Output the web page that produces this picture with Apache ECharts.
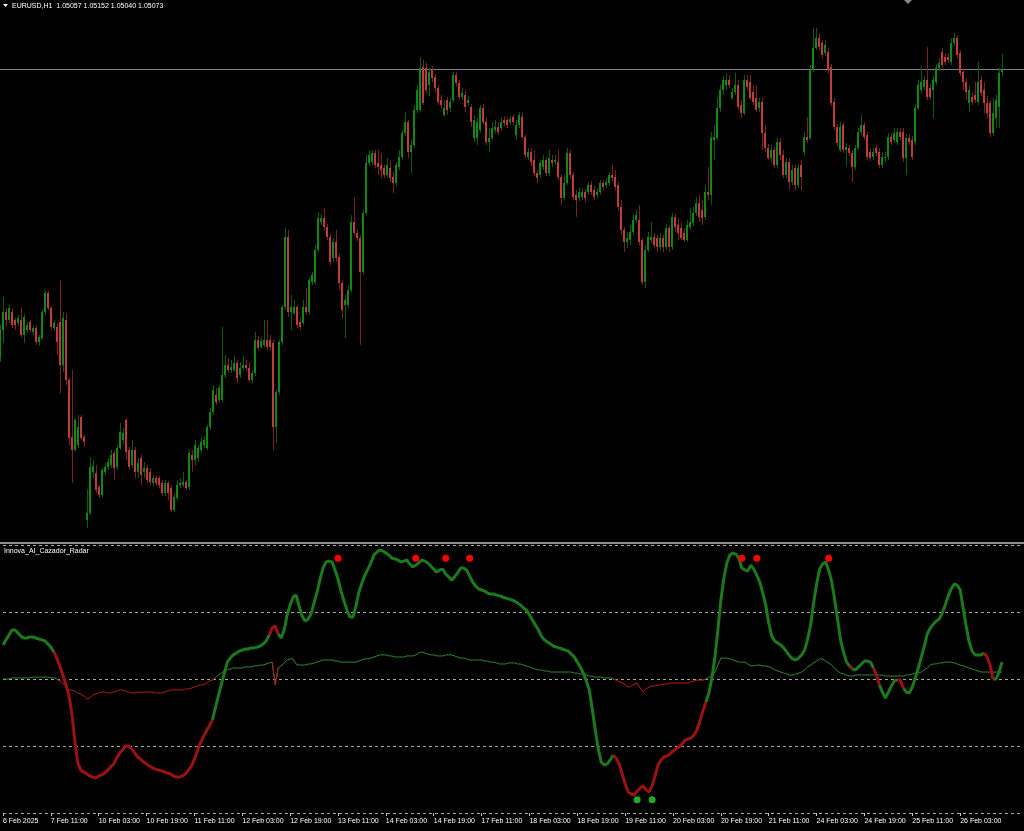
<!DOCTYPE html>
<html><head><meta charset="utf-8">
<script src="https://cdn.jsdelivr.net/npm/echarts/dist/echarts.min.js"></script>
<style>html,body{margin:0;padding:0;background:#000;overflow:hidden}#c{width:1024px;height:831px}</style>
</head><body><div id="c"></div>
<script>
// EURUSD H1 candles (bar 0 = 6 Feb 2025 19:00)
const openP = [
1.0363,1.0377,1.0386,1.0382,1.0386,1.0382,1.03805,1.0382,1.03745,1.0377,
1.0381,1.0376,1.0378,1.0371,1.0373,1.0386,1.03955,1.0388,1.0378,1.03785,
1.0381,1.03595,1.0382,1.0352,1.03235,1.0317,1.03195,1.03335,1.03235,1.0282,
1.02855,1.0306,1.03055,1.02985,1.02945,1.0306,1.03085,1.03095,1.03155,1.03085,
1.0318,1.0322,1.0332,1.0317,1.03095,1.0317,1.0306,1.0313,1.0306,1.0308,
1.0306,1.03005,1.0303,1.0303,1.03005,1.02955,1.03005,1.0298,1.0287,1.0293,
1.02995,1.02995,1.0301,1.02985,1.03145,1.0312,1.0313,1.0317,1.03195,1.0318,
1.03285,1.0336,1.03445,1.0342,1.0342,1.03545,1.03595,1.0357,1.0357,1.03605,
1.03545,1.0358,1.03595,1.0358,1.0352,1.03555,1.0372,1.03685,1.03695,1.0372,
1.0372,1.03705,1.03285,1.0346,1.0371,1.03885,1.04235,1.0386,1.03855,1.03885,
1.0381,1.03805,1.03885,1.0386,1.0401,1.0401,1.0417,1.0431,1.0433,1.04285,
1.04235,1.0413,1.0421,1.04135,1.04005,1.03895,1.03895,1.0397,1.0431,1.04255,
1.0423,1.0406,1.04355,1.04605,1.0461,1.04655,1.04605,1.04595,1.0458,1.04545,
1.0458,1.04535,1.04505,1.04585,1.04635,1.04755,1.0481,1.0466,1.04695,1.0487,
1.0487,1.05085,1.0508,1.04995,1.0507,1.05035,1.0498,1.0492,1.04845,1.0492,
1.0488,1.0492,1.05045,1.05005,1.04935,1.04945,1.04905,1.04885,1.0473,1.0473,
1.0477,1.0488,1.0481,1.0471,1.0473,1.0477,1.04785,1.0478,1.0482,1.0482,
1.0481,1.04835,1.04745,1.04795,1.04835,1.04735,1.04635,1.0466,1.0462,1.04555,
1.04545,1.04585,1.0462,1.04555,1.0462,1.0461,1.0461,1.04535,1.0443,1.04505,
1.04655,1.04545,1.04445,1.0443,1.04435,1.0446,1.0446,1.04495,1.0447,1.04445,
1.0446,1.04505,1.04495,1.04505,1.04545,1.04535,1.04495,1.04385,1.0427,1.0421,
1.0422,1.0426,1.0432,1.0432,1.0422,1.0401,1.0417,1.0422,1.04235,1.0423,
1.04185,1.0423,1.04185,1.0428,1.04185,1.04335,1.04295,1.0428,1.04255,1.0422,
1.04285,1.04305,1.04355,1.04405,1.0437,1.04335,1.0446,1.04445,1.0472,1.0473,
1.0488,1.0497,1.04995,1.0502,1.0493,1.0496,1.04995,1.04895,1.04855,1.0502,
1.0501,1.0496,1.0493,1.0488,1.0491,1.04755,1.0468,1.0463,1.0467,1.04595,
1.0471,1.04645,1.04545,1.0461,1.0451,1.0458,1.04495,1.04595,1.0466,1.04735,
1.0473,1.0507,1.0518,1.0523,1.05205,1.05155,1.0516,1.05085,1.0491,1.04785,
1.0467,1.04795,1.0467,1.0468,1.04655,1.04585,1.0468,1.0476,1.04795,1.04745,
1.0466,1.04635,1.0468,1.0466,1.04595,1.0463,1.04635,1.04735,1.0472,1.0471,
1.0476,1.0476,1.0463,1.0473,1.0472,1.0471,1.0488,1.0497,1.04985,1.0502,
1.0498,1.0497,1.0501,1.0508,1.0516,1.05135,1.05135,1.0511,1.05205,1.0523,
1.05155,1.0506,1.0501,1.04905,1.04935,1.04945,1.0491,1.0502,1.0497,1.04905,
1.04905,1.04755,1.0483,1.04885,1.05057];
const closeP = [
1.0377,1.0386,1.0382,1.0388,1.03795,1.03795,1.0383,1.03745,1.03835,1.03795,
1.0377,1.0378,1.0371,1.03735,1.0386,1.03955,1.0388,1.03785,1.03805,1.0371,
1.03595,1.0383,1.0352,1.0323,1.0317,1.0332,1.03285,1.0323,1.0321,1.02855,
1.03085,1.0309,1.0297,1.02945,1.0307,1.03085,1.0311,1.03145,1.0308,1.0318,
1.0326,1.03255,1.0316,1.03085,1.0317,1.0306,1.03105,1.03045,1.0308,1.0302,
1.0301,1.0303,1.03005,1.02995,1.02955,1.03005,1.02955,1.0287,1.02935,1.02995,
1.03005,1.0301,1.0298,1.03155,1.0312,1.03195,1.0318,1.0321,1.0322,1.03285,
1.0336,1.0347,1.0341,1.0348,1.03545,1.03595,1.0357,1.03585,1.03605,1.0353,
1.0358,1.03595,1.0358,1.0352,1.03555,1.0372,1.0368,1.03715,1.0372,1.03685,
1.03685,1.03285,1.0346,1.0371,1.03885,1.04235,1.0386,1.03885,1.03885,1.03795,
1.03785,1.03885,1.0386,1.0402,1.04045,1.0417,1.0433,1.0433,1.04285,1.04235,
1.0411,1.0421,1.0413,1.04005,1.0387,1.0392,1.0397,1.0431,1.04255,1.0423,
1.0406,1.04355,1.04605,1.04645,1.04655,1.04595,1.04585,1.0457,1.04545,1.04595,
1.0453,1.04505,1.04595,1.04635,1.04755,1.0481,1.0466,1.04695,1.0487,1.0497,
1.0508,1.04905,1.0497,1.0506,1.0503,1.0498,1.0491,1.04895,1.0488,1.0487,
1.0491,1.05045,1.05005,1.04935,1.04955,1.04885,1.0492,1.0481,1.0482,1.0481,
1.0488,1.0481,1.0471,1.0473,1.0478,1.04785,1.0476,1.0481,1.04805,1.04795,
1.04825,1.0481,1.04795,1.04845,1.04735,1.04645,1.0466,1.0461,1.04555,1.0453,
1.04605,1.0462,1.04555,1.0463,1.04605,1.0462,1.04535,1.0443,1.04505,1.04655,
1.04545,1.04435,1.0442,1.0446,1.0446,1.0443,1.04495,1.0446,1.04435,1.0446,
1.04505,1.04485,1.0451,1.04545,1.0453,1.04485,1.04385,1.0427,1.0421,1.0423,
1.0426,1.0432,1.04345,1.0421,1.0401,1.0417,1.04235,1.04235,1.04195,1.04185,
1.0423,1.04185,1.0428,1.04185,1.04335,1.04285,1.04255,1.0423,1.0422,1.04295,
1.0431,1.04355,1.04405,1.04335,1.0433,1.0446,1.04445,1.0473,1.04735,1.0488,
1.0497,1.0502,1.0502,1.04995,1.0496,1.04995,1.04885,1.04855,1.0502,1.04985,
1.0493,1.0491,1.0487,1.0491,1.04755,1.0468,1.0463,1.0467,1.04595,1.0471,
1.04645,1.04545,1.0461,1.0451,1.0457,1.04495,1.0458,1.04535,1.04735,1.0472,
1.0507,1.0518,1.0523,1.05185,1.05145,1.05195,1.0507,1.04905,1.04785,1.04705,
1.04785,1.0467,1.04685,1.04655,1.04585,1.0468,1.0476,1.04795,1.04735,1.04635,
1.0463,1.0466,1.04655,1.04595,1.04635,1.04635,1.04735,1.0471,1.04755,1.0476,
1.04735,1.0463,1.0473,1.0471,1.04635,1.0488,1.04995,1.0501,1.0502,1.04935,
1.04935,1.0502,1.0508,1.05105,1.05095,1.0511,1.0512,1.05205,1.0523,1.05145,
1.05055,1.0501,1.0496,1.0497,1.0491,1.0492,1.0501,1.04955,1.04905,1.04855,
1.04755,1.04855,1.0492,1.05055,1.05073];
const highP = [
1.03795,1.03935,1.0388,1.03895,1.03875,1.0383,1.03845,1.0388,1.0385,1.0381,
1.0382,1.0379,1.03795,1.03745,1.0387,1.0397,1.03965,1.0389,1.0382,1.03805,
1.0402,1.0386,1.03855,1.0353,1.0357,1.0333,1.03345,1.03345,1.03245,1.02975,
1.03135,1.0312,1.03095,1.02995,1.0308,1.03105,1.0313,1.0317,1.0317,1.03195,
1.03305,1.0328,1.0333,1.03185,1.0322,1.03185,1.0313,1.03145,1.0311,1.03095,
1.0308,1.03045,1.0304,1.0304,1.0302,1.0302,1.03015,1.02995,1.0295,1.0302,
1.0303,1.0306,1.0302,1.0317,1.0317,1.0322,1.03195,1.0323,1.0324,1.03295,
1.0338,1.03495,1.0348,1.03495,1.03785,1.03645,1.0363,1.0362,1.0364,1.0362,
1.0361,1.0364,1.0362,1.0361,1.0357,1.0376,1.0374,1.03735,1.0382,1.0382,
1.03745,1.0372,1.0347,1.0372,1.03895,1.0428,1.0427,1.03945,1.0392,1.03895,
1.0383,1.0392,1.0398,1.0403,1.0406,1.04195,1.0436,1.0435,1.0438,1.043,
1.0425,1.0423,1.0427,1.0415,1.0402,1.03945,1.03995,1.04345,1.04435,1.0427,
1.04245,1.0437,1.04645,1.0467,1.0467,1.0467,1.0467,1.04655,1.04595,1.0463,
1.0462,1.0456,1.0461,1.0467,1.0477,1.0486,1.0482,1.0472,1.04895,1.04995,
1.05135,1.0512,1.05105,1.0508,1.0509,1.0505,1.04995,1.04945,1.0492,1.04935,
1.0493,1.0506,1.0506,1.0502,1.0498,1.0497,1.0494,1.049,1.04845,1.0483,
1.04895,1.049,1.0483,1.0478,1.0481,1.0482,1.0481,1.04835,1.0484,1.04835,
1.0484,1.0485,1.0482,1.0486,1.04855,1.04745,1.0468,1.0468,1.0467,1.0457,
1.0462,1.04645,1.04635,1.0467,1.04645,1.04645,1.0467,1.0455,1.04545,1.0468,
1.0467,1.0456,1.0447,1.0448,1.0448,1.04475,1.0451,1.04515,1.0449,1.0448,
1.0452,1.0452,1.0453,1.0456,1.04595,1.0457,1.0451,1.0442,1.04285,1.0426,
1.04295,1.04345,1.0437,1.04395,1.0423,1.04195,1.0426,1.0431,1.04255,1.04245,
1.04255,1.04245,1.043,1.04295,1.04355,1.0435,1.0433,1.0431,1.0428,1.0432,
1.0438,1.04385,1.04435,1.04445,1.0442,1.04495,1.04585,1.0476,1.04795,1.0493,
1.04995,1.0504,1.05055,1.05045,1.0498,1.05055,1.0502,1.0492,1.05045,1.05045,
1.05045,1.04995,1.04995,1.0493,1.0493,1.04795,1.047,1.04695,1.04685,1.0473,
1.0473,1.0467,1.0463,1.0463,1.04595,1.04595,1.046,1.0462,1.0476,1.04835,
1.05095,1.0528,1.0528,1.05255,1.0522,1.0522,1.0518,1.051,1.0493,1.048,
1.0481,1.0481,1.04705,1.04695,1.0467,1.04695,1.0478,1.04845,1.0481,1.0476,
1.0468,1.0468,1.04695,1.0468,1.04655,1.0466,1.04755,1.04755,1.0478,1.0478,
1.0478,1.0478,1.0475,1.0475,1.0474,1.049,1.0502,1.05085,1.0504,1.05185,
1.05,1.0504,1.051,1.0513,1.0518,1.05155,1.05155,1.0523,1.05255,1.05245,
1.0517,1.0508,1.0503,1.04995,1.04955,1.0501,1.0511,1.0504,1.0501,1.0494,
1.0492,1.0493,1.04945,1.0508,1.05152];
const lowP = [
1.0361,1.03705,1.03785,1.03805,1.0378,1.0377,1.0379,1.03735,1.03705,1.03755,
1.0376,1.03745,1.03695,1.0369,1.0372,1.03845,1.0387,1.0377,1.03765,1.03645,
1.03455,1.0356,1.03495,1.03195,1.03005,1.0316,1.0318,1.0322,1.03185,1.0278,
1.02845,1.0303,1.02955,1.0293,1.02935,1.03045,1.0307,1.0308,1.0302,1.0307,
1.0317,1.032,1.0312,1.0307,1.0308,1.0303,1.0303,1.02995,1.0303,1.03005,
1.02995,1.0299,1.0299,1.0298,1.0294,1.0294,1.0292,1.0286,1.0286,1.0292,
1.0298,1.02985,1.0297,1.0297,1.0306,1.03095,1.0311,1.03155,1.0318,1.0317,
1.0327,1.03345,1.03395,1.03405,1.0341,1.0353,1.03555,1.03555,1.0356,1.03505,
1.0353,1.0357,1.03565,1.0351,1.03505,1.0354,1.0367,1.03675,1.03685,1.0367,
1.0367,1.0317,1.03205,1.03445,1.03695,1.0387,1.03835,1.0377,1.03845,1.0378,
1.0377,1.03795,1.03845,1.03845,1.03995,1.03995,1.0416,1.04295,1.0427,1.0422,
1.04095,1.0411,1.0411,1.0397,1.0383,1.0373,1.0388,1.0396,1.0424,1.04215,
1.03695,1.04045,1.04345,1.0459,1.04595,1.0458,1.04545,1.0453,1.0453,1.0453,
1.0451,1.04455,1.0449,1.0457,1.0462,1.0474,1.0463,1.04555,1.0468,1.04855,
1.0486,1.04895,1.04955,1.0494,1.0501,1.0496,1.04895,1.0488,1.04835,1.04845,
1.0486,1.04905,1.0499,1.0492,1.0492,1.0486,1.0489,1.04785,1.0471,1.04695,
1.04755,1.04795,1.04695,1.0466,1.0472,1.04755,1.04745,1.04765,1.0479,1.0478,
1.04795,1.04795,1.0472,1.0478,1.04725,1.0463,1.0462,1.0459,1.0454,1.04505,
1.0453,1.0457,1.0454,1.0454,1.04585,1.04595,1.0452,1.04395,1.0442,1.04495,
1.0453,1.0442,1.04335,1.04415,1.0442,1.0441,1.04445,1.04445,1.0442,1.0443,
1.04445,1.0447,1.0448,1.0449,1.04515,1.0447,1.0437,1.04245,1.0416,1.0418,
1.04195,1.04245,1.04305,1.04195,1.03995,1.0398,1.0416,1.04205,1.0418,1.0416,
1.0417,1.0416,1.0417,1.0416,1.0417,1.0426,1.0422,1.0422,1.0421,1.0421,
1.0427,1.0429,1.0434,1.0431,1.04295,1.0432,1.0442,1.04395,1.0462,1.0472,
1.0486,1.04945,1.0497,1.0498,1.0492,1.04945,1.0487,1.0483,1.04845,1.0497,
1.0492,1.04895,1.0486,1.0486,1.0467,1.0466,1.0462,1.0461,1.0458,1.0458,
1.0462,1.0453,1.0453,1.0447,1.04495,1.0447,1.0448,1.0447,1.04645,1.04705,
1.0472,1.0506,1.0517,1.0517,1.0513,1.0514,1.05055,1.0489,1.0477,1.0469,
1.0466,1.04655,1.0459,1.0464,1.0451,1.0457,1.0467,1.04745,1.0472,1.0462,
1.04615,1.0462,1.0464,1.0458,1.0458,1.0461,1.0462,1.04695,1.04705,1.04695,
1.0472,1.0461,1.04545,1.04695,1.0462,1.04695,1.0487,1.04955,1.0497,1.0492,
1.0492,1.0483,1.04995,1.05065,1.0508,1.05095,1.05105,1.05095,1.0519,1.0513,
1.0504,1.0497,1.0492,1.0486,1.04895,1.04905,1.04895,1.0494,1.04855,1.0483,
1.04735,1.0474,1.0478,1.0478,1.0504];

// Innova_AI_Cazador_Radar indicator (0..100)
const radarMain = [
62.7,64.6,66.4,68.3,68.3,67.2,66.0,65.3,65.3,65.7,
65.7,65.3,64.9,64.6,64.2,63.1,61.9,60.1,57.8,54.9,
51.5,48.1,44.0,37.3,27.2,18.7,16.0,15.3,14.6,13.8,
13.4,13.1,13.8,14.2,14.9,16.0,17.2,18.3,20.5,22.4,
23.5,25.0,25.0,23.9,22.4,20.9,20.1,19.0,18.3,17.5,
16.8,16.4,16.0,15.7,15.3,14.9,14.6,13.8,13.4,13.4,
13.8,14.6,16.0,17.5,20.1,23.1,26.1,28.4,30.6,32.5,
34.7,39.2,43.7,48.1,52.2,56.3,57.8,59.0,59.7,60.4,
60.8,61.2,61.2,61.6,61.6,61.9,62.3,63.1,64.2,66.4,
69.0,69.8,66.8,65.3,68.3,73.9,77.6,80.6,81.3,77.2,
73.5,71.6,72.4,74.3,78.4,82.5,87.3,91.4,93.7,94.0,
93.7,90.7,87.3,82.8,79.1,75.7,73.1,73.1,77.2,82.5,
85.8,88.8,91.0,93.3,96.3,97.4,98.1,97.8,97.0,96.3,
95.1,94.8,94.4,93.7,94.0,94.4,92.9,91.8,92.5,93.3,
94.4,94.0,93.3,92.2,91.0,89.9,90.7,91.0,89.2,88.1,
86.9,88.1,89.6,91.4,91.4,90.7,88.4,86.2,84.7,83.6,
83.2,82.8,82.1,81.7,81.7,81.3,81.0,80.6,80.2,79.9,
79.5,79.1,78.4,77.6,76.5,75.7,73.9,72.0,70.1,68.3,
66.0,64.6,63.8,63.1,62.3,61.9,61.6,61.2,60.8,60.4,
59.3,58.2,56.3,54.5,52.2,49.3,45.9,38.8,31.0,23.9,
19.0,17.9,18.3,19.8,21.6,20.5,18.3,14.6,10.8,7.8,
7.1,6.7,8.2,9.3,10.1,8.6,7.8,10.1,13.8,17.9,
19.8,20.9,21.3,22.0,23.1,23.9,24.6,25.7,27.2,27.6,
28.0,29.1,31.0,34.3,38.1,41.4,44.8,50.4,58.2,68.3,
79.5,87.7,93.3,96.3,97.0,96.6,95.1,91.4,90.7,90.3,
92.5,91.0,88.8,86.2,82.1,77.6,70.9,66.0,64.2,63.4,
62.7,61.6,60.1,58.6,57.5,57.1,57.8,59.0,60.8,64.9,
70.1,78.4,85.4,91.0,92.9,93.7,90.7,86.6,79.9,72.4,
64.6,60.1,56.3,54.9,53.7,53.4,54.5,55.6,56.7,56.7,
56.3,54.1,51.5,47.8,45.1,42.9,45.1,47.4,49.3,49.6,
49.6,46.6,45.1,44.8,47.0,50.4,54.1,58.2,62.3,66.8,
69.0,70.5,71.6,72.4,74.6,77.6,81.0,83.6,85.4,85.1,
83.2,76.5,69.8,63.8,60.4,59.0,59.0,59.0,59.7,58.2,
55.2,50.0,50.0,52.6,56.3];
const radarSignal = [
50.0,50.0,50.0,50.4,50.4,50.4,50.4,50.4,50.4,50.4,
50.7,50.7,50.7,50.7,50.7,50.7,50.4,50.4,50.0,49.3,
48.5,47.0,45.9,45.9,45.5,44.8,44.4,43.7,42.5,42.9,
44.0,44.4,44.8,45.1,45.1,44.8,44.8,45.1,45.5,45.9,
45.9,45.5,45.1,44.8,44.8,45.1,45.1,45.1,45.1,45.1,
45.1,44.8,44.8,44.8,45.1,45.5,45.9,45.9,45.9,45.9,
45.9,46.3,46.3,46.6,47.0,47.4,47.8,47.8,48.5,49.3,
49.6,50.4,51.5,52.2,53.0,53.4,53.7,54.1,54.1,54.1,
54.1,54.5,54.5,54.5,54.9,54.9,55.2,55.2,55.6,56.0,
56.3,47.8,54.1,54.9,56.0,57.1,57.5,57.5,55.6,55.2,
55.2,55.2,55.6,55.6,56.0,56.3,56.7,57.1,57.1,57.1,
57.1,56.7,56.7,56.3,56.3,56.3,56.3,56.3,56.3,56.7,
57.1,57.5,57.5,57.8,58.2,58.6,59.0,59.0,59.0,58.6,
58.6,58.2,58.2,58.2,58.2,58.6,58.6,58.6,59.0,59.7,
60.1,59.7,59.3,59.0,59.0,58.6,58.6,58.6,59.0,59.0,
59.0,58.6,58.2,57.8,57.8,57.5,57.1,57.1,57.1,57.1,
57.1,56.7,56.7,56.3,56.3,56.0,55.6,55.6,55.6,56.0,
56.0,56.0,55.6,55.6,55.2,54.9,54.5,54.1,53.7,53.4,
53.4,53.0,53.0,52.6,52.6,52.6,52.6,52.6,52.6,52.6,
52.6,52.2,52.2,51.9,51.9,51.5,51.1,51.1,50.7,50.7,
50.7,50.4,50.4,50.4,50.0,49.6,48.9,48.5,47.8,47.0,
47.4,48.1,48.5,46.6,45.1,46.3,47.0,47.4,47.4,47.8,
47.8,48.1,48.1,48.5,48.5,48.5,48.5,48.5,48.5,48.5,
48.9,49.3,49.6,49.6,49.6,50.0,50.7,51.1,52.6,55.2,
57.8,57.8,57.8,57.5,57.1,56.7,56.3,56.3,56.3,55.6,
54.9,54.9,55.2,55.2,54.9,54.9,54.5,54.1,53.4,53.0,
52.6,52.2,51.9,51.5,51.5,51.9,52.2,52.6,53.4,54.5,
55.2,56.0,56.7,57.5,57.5,56.7,56.0,55.2,54.1,53.0,
52.2,51.9,51.5,51.1,51.1,51.5,51.5,51.5,51.5,51.5,
51.5,51.5,51.5,51.5,51.5,51.1,51.1,51.1,51.1,51.1,
51.1,51.1,51.5,51.5,51.9,52.2,52.2,52.6,53.4,54.1,
55.2,55.6,55.6,56.0,56.0,56.3,56.3,56.3,56.0,55.6,
55.2,54.9,54.5,54.1,53.7,53.4,53.0,52.6,52.6,52.6,
52.6,52.6,52.6,52.6,52.6];
// bar ranges where the thick radar line is painted red
const thickRedRanges = [[17,70],[89,92],[204,232],[233,235],[283,284],[291,293],[299,301],[328,331]];
// signal dots: [bar, level]
const sellDots = [[112,95.1],[138,95.1],[148,95.1],[156,95.1],[247,95.1],[252,95.1],[276,95.1]];
const buyDots = [[212,4.9],[217,4.9]];
const signalMid = 50;
const tickLabels = ["6 Feb 2025","7 Feb 11:00","10 Feb 03:00","10 Feb 19:00","11 Feb 11:00","12 Feb 03:00",
"12 Feb 19:00","13 Feb 11:00","14 Feb 03:00","14 Feb 19:00","17 Feb 11:00","18 Feb 03:00","18 Feb 19:00",
"19 Feb 11:00","20 Feb 03:00","20 Feb 19:00","21 Feb 11:00","24 Feb 03:00","24 Feb 19:00","25 Feb 11:00","26 Feb 03:00"];
const titleText = "EURUSD,H1  1.05057 1.05152 1.05040 1.05073";
const indicatorName = "Innova_AI_Cazador_Radar";

const SLOTS = 342; // bars + right shift
const cats = Array.from({length: SLOTS}, (_, i) => String(i));
const LABEL_EVERY = 16;
const FONT = "'Liberation Sans', Arial, sans-serif";

const candleData = openP.map((o, i) => [i, o, closeP[i], lowP[i], highP[i]]);
function inRange(i){ return thickRedRanges.some(r => i >= r[0] && i <= r[1]); }
function inInterior(i){ return thickRedRanges.some(r => i > r[0] && i < r[1]); }
const thickGreen = radarMain.map((v, i) => inInterior(i) ? null : v);
const thickRed = radarMain.map((v, i) => inRange(i) ? v : null);
// thin signal line split by the 50 level
const isLow = (i) => radarSignal[i] < signalMid;
const thinGreen = radarSignal.map((v, i) => (!isLow(i) || (i > 0 && !isLow(i - 1)) || (i < radarSignal.length - 1 && !isLow(i + 1))) ? v : null);
const thinRed = radarSignal.map((v, i) => (isLow(i) || (i > 0 && isLow(i - 1)) || (i < radarSignal.length - 1 && isLow(i + 1))) ? v : null);

const chart = echarts.init(document.getElementById('c'), null, {renderer: 'canvas'});
function renderCandle(params, api) {
  const i = api.value(0), o = api.value(1), c = api.value(2), l = api.value(3), h = api.value(4);
  const pO = api.coord([i, o]), pC = api.coord([i, c]), pL = api.coord([i, l]), pH = api.coord([i, h]);
  const x = Math.round(pO[0]);
  const up = c >= o;
  const top = Math.round(Math.min(pO[1], pC[1]));
  const bh = Math.max(1, Math.round(Math.abs(pO[1] - pC[1])));
  const ht = Math.round(pH[1]), lb = Math.round(pL[1]);
  return {type: 'group', children: [
    {type: 'rect', shape: {x: x, y: ht, width: 1, height: Math.max(1, lb - ht)}, style: {fill: up ? '#0a5e0a' : '#7a2222'}},
    {type: 'rect', shape: {x: x - 1, y: top, width: 2, height: bh}, style: {fill: up ? '#0e8a0e' : '#c23b3b'}}
  ]};
}
const labelShow = (i) => i % LABEL_EVERY === 0 && (i / LABEL_EVERY) < tickLabels.length;
const option = {
  backgroundColor: '#000000',
  animation: false,
  title: [
    {text: titleText, left: 12, top: 3, padding: 0, textStyle: {color: '#ffffff', fontSize: 7, fontWeight: 'normal', fontFamily: FONT}},
    {text: indicatorName, left: 4, top: 548, padding: 0, textStyle: {color: '#ffffff', fontSize: 7, fontWeight: 'normal', fontFamily: FONT}}
  ],
  grid: [
    {left: 0, right: 1, top: 0, height: 540, containLabel: false},
    {left: 0, right: 1, top: 545, height: 268, containLabel: false}
  ],
  xAxis: [
    {type: 'category', gridIndex: 0, data: cats, boundaryGap: false, show: false},
    {type: 'category', gridIndex: 1, data: cats, boundaryGap: false,
     axisLine: {show: false},
     axisTick: {show: true, interval: labelShow, length: 3, lineStyle: {color: '#c8c8c8', width: 1}},
     axisLabel: {show: true, interval: labelShow, align: 'left', margin: 5,
       color: '#ffffff', fontSize: 7, fontFamily: FONT,
       formatter: (v, i) => tickLabels[i / LABEL_EVERY] || ''},
     splitLine: {show: false}}
  ],
  yAxis: [
    {type: 'value', gridIndex: 0, min: 1.0272, max: 1.0542, show: false, splitLine: {show: false}},
    {type: 'value', gridIndex: 1, min: 0, max: 100, interval: 25,
     axisLine: {show: false}, axisTick: {show: false}, axisLabel: {show: false},
     splitLine: {show: true, lineStyle: {color: '#a8a8a8', type: [3, 3], width: 1}}}
  ],
  series: [
    {type: 'custom', name: 'EURUSD', xAxisIndex: 0, yAxisIndex: 0, data: candleData,
     encode: {x: 0, y: [1, 2, 3, 4]}, renderItem: renderCandle, silent: true},
    {type: 'line', name: 'signalUp', xAxisIndex: 1, yAxisIndex: 1, data: thinGreen,
     showSymbol: false, connectNulls: false, lineStyle: {width: 1, color: '#2f8a2f'}, itemStyle: {color: '#2f8a2f'}, silent: true, z: 3},
    {type: 'line', name: 'signalDown', xAxisIndex: 1, yAxisIndex: 1, data: thinRed,
     showSymbol: false, connectNulls: false, lineStyle: {width: 1, color: '#b81a1a'}, itemStyle: {color: '#b81a1a'}, silent: true, z: 3},
    {type: 'line', name: 'radarGreen', xAxisIndex: 1, yAxisIndex: 1, data: thickGreen,
     showSymbol: false, connectNulls: false, lineStyle: {width: 3, color: '#1c7a1c'}, itemStyle: {color: '#1c7a1c'}, silent: true, z: 4},
    {type: 'line', name: 'radarRed', xAxisIndex: 1, yAxisIndex: 1, data: thickRed,
     showSymbol: false, connectNulls: false, lineStyle: {width: 3, color: '#9a1212'}, itemStyle: {color: '#9a1212'}, silent: true, z: 5},
    {type: 'scatter', name: 'sell', xAxisIndex: 1, yAxisIndex: 1, data: sellDots,
     symbol: 'circle', symbolSize: 7, itemStyle: {color: '#ff0000', opacity: 1}, silent: true, z: 6},
    {type: 'scatter', name: 'buy', xAxisIndex: 1, yAxisIndex: 1, data: buyDots,
     symbol: 'circle', symbolSize: 7, itemStyle: {color: '#22aa22', opacity: 1}, silent: true, z: 6}
  ],
  graphic: [
    {id: 'sep', type: 'rect', shape: {x: 0, y: 542, width: 1024, height: 2}, style: {fill: '#8c8c8c'}, silent: true},
    {id: 'tri', type: 'polygon', shape: {points: [[3, 4], [8, 4], [5.5, 7]]}, style: {fill: '#ffffff'}, silent: true},
    {id: 'shift', type: 'polygon', shape: {points: [[904, 0], [912, 0], [908, 4]]}, style: {fill: '#8a8a8a'}, silent: true}
  ]
};
chart.setOption(option);
try {
  const lastClose = closeP[closeP.length - 1];
  const py = Math.round(chart.convertToPixel({gridIndex: 0}, [0, lastClose])[1]) + 0.5;
  chart.setOption({graphic: [
    {id: 'priceLine', type: 'line', shape: {x1: 0, y1: py, x2: 1024, y2: py}, style: {stroke: '#76828f', lineWidth: 1}, z: -1, silent: true}
  ]});
} catch (e) { console.log(e); }
</script></body></html>
